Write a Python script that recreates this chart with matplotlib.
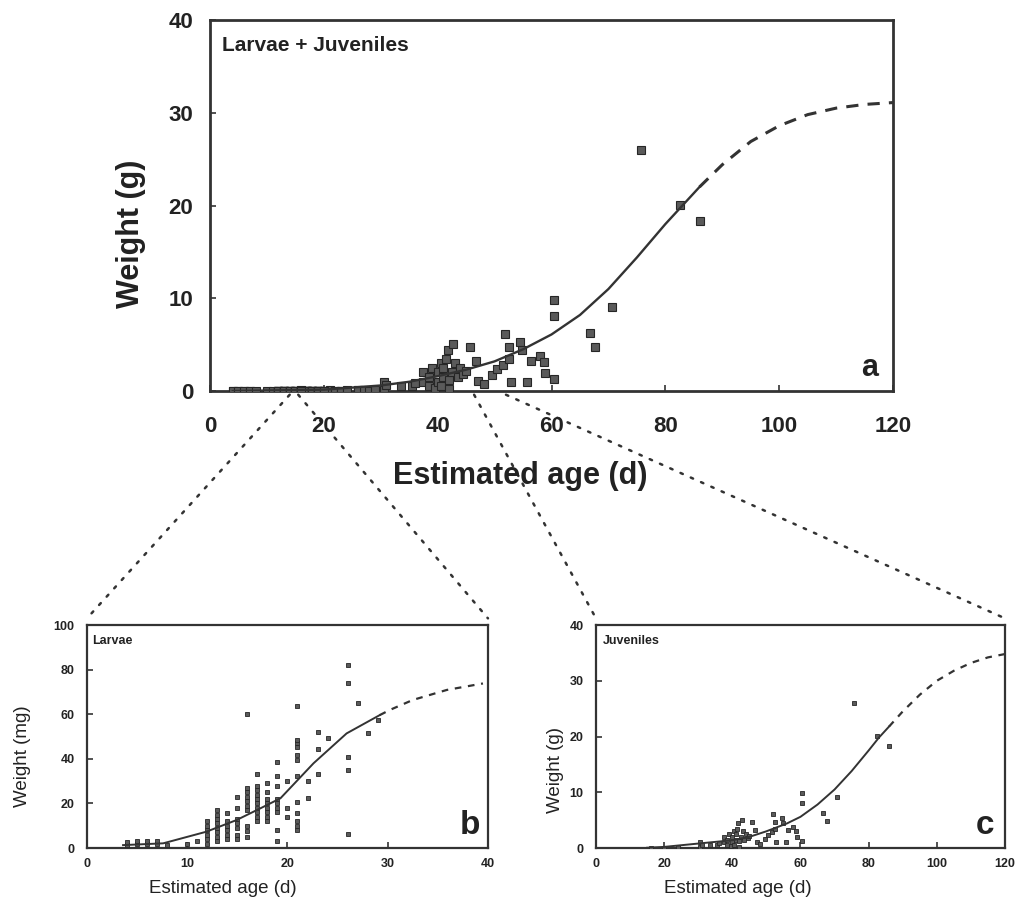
import matplotlib
matplotlib.use("Agg")
import matplotlib.pyplot as plt
from matplotlib.patches import ConnectionPatch

plt.rcParams['font.family'] = ['Liberation Sans', 'DejaVu Sans']

# ------------------------------------------------------------------
# Data
# ------------------------------------------------------------------
# larvae: estimated age (d) and weight (mg)
larvae_age = [4, 4, 5, 5, 6, 6, 7, 7, 8, 10, 11,
              12, 12, 12, 12, 12, 12,
              13, 13, 13, 13, 13, 13, 13, 13,
              14, 14, 14, 14, 14, 14,
              15, 15, 15, 15, 15, 15, 15,
              16, 16, 16, 16, 16, 16, 16, 16, 16, 16,
              17, 17, 17, 17, 17, 17, 17, 17, 17, 17,
              18, 18, 18, 18, 18, 18, 18, 18,
              19, 19, 19, 19, 19, 19, 19, 19, 19,
              20, 20, 20,
              21, 21, 21, 21, 21, 21, 21, 21, 21, 21, 21, 21,
              22, 22, 23, 23, 23, 24,
              26, 26, 26, 26, 26, 27, 28, 29]
larvae_mg = [1.5, 2.5, 2, 3, 2, 3, 2, 3, 1.5, 2, 3,
             2, 4, 6, 8, 10, 12,
             3, 5, 7, 9, 11, 13, 15, 17,
             4, 6, 8, 10, 12, 15.5,
             4, 6, 9, 11, 13, 18, 23,
             5, 7.5, 10, 17, 19, 21, 23, 25, 27, 60,
             12, 14, 16, 18, 20, 22, 24, 26, 28, 33,
             12, 14, 16, 18, 20, 22, 25, 29,
             3, 8, 16, 18, 20, 22, 28, 32.5, 38.5,
             14, 18, 30,
             8, 10, 12, 15.5, 20.5, 32.5, 39.5, 41.5, 45.5, 47, 48.5, 63.5,
             22.5, 30, 33, 44.5, 52, 49.5,
             6.5, 35, 41, 74, 82, 65, 51.5, 57.5]

# juveniles: estimated age (d) and weight (g)
juv_age = [16, 20, 24, 30.5, 30.5, 31, 33.5, 35.5, 36,
           37.5, 37.5, 38.5, 38.5, 39, 39.5, 40, 40, 40.5, 40.5, 41, 41,
           41.5, 41.8, 42, 42, 42.5, 42.7, 43, 43.5, 44, 44.5, 45,
           45.7, 46.7, 47.1, 48.1, 49.6, 50.5, 51.5, 51.8, 52.5, 52.5, 52.8,
           54.5, 54.8, 55.7, 56.4, 57.9, 58.7, 58.9, 60.5, 60.5, 60.5,
           66.7, 67.7, 70.6, 75.7, 82.5, 86.0]
juv_g = [0.05, 0.05, 0.1, 0.2, 1.0, 0.6, 0.5, 0.5, 0.9,
         1.0, 2.0, 0.5, 1.5, 2.5, 0.3, 1.0, 2.0, 3.0, 0.5, 1.5, 2.5,
         3.5, 4.4, 0.2, 1.2, 2.0, 5.1, 3.0, 1.5, 2.5, 1.8, 2.2,
         4.7, 3.2, 1.1, 0.8, 1.7, 2.4, 2.8, 6.1, 4.7, 3.5, 1.0,
         5.3, 4.4, 1.0, 3.2, 3.8, 3.1, 1.9, 1.3, 9.8, 8.1,
         6.3, 4.8, 9.1, 26.0, 20.1, 18.3]

# growth curves (solid = within data, dashed = extrapolated)
curve_a_x = [4, 20, 30, 35, 40, 45, 50, 55, 60, 65, 70, 75, 80, 83, 86]
curve_a_y = [0.0, 0.15, 0.6, 1.0, 1.6, 2.3, 3.2, 4.5, 6.1, 8.2, 11.0, 14.4, 18.0, 20.0, 22.0]
curve_a_ext_x = [86, 90, 95, 100, 105, 110, 115, 120]
curve_a_ext_y = [22.0, 24.4, 26.9, 28.6, 29.8, 30.5, 30.9, 31.1]

curve_b_x = [3.6, 7.6, 11.9, 14.9, 17.3, 19.3, 22.6, 25.9, 29.2]
curve_b_y = [1.3, 2.1, 7.3, 12.5, 17.8, 22.3, 38.0, 51.4, 59.6]
curve_b_ext_x = [29.2, 30.2, 32.5, 35.9, 39.5]
curve_b_ext_y = [59.6, 61.9, 66.4, 70.9, 73.8]

curve_c_x = [15, 20, 30, 40, 45, 50, 56, 60, 65, 70, 75, 80, 83, 86]
curve_c_y = [0.05, 0.2, 0.8, 1.4, 2.0, 3.0, 4.4, 5.6, 7.8, 10.5, 13.8, 17.5, 19.8, 21.8]
curve_c_ext_x = [86, 90, 95, 100, 105, 110, 115, 120]
curve_c_ext_y = [21.8, 24.5, 27.5, 30.0, 31.8, 33.2, 34.2, 34.8]

# ------------------------------------------------------------------
INK = '#333333'
MFC = '#5a5a5a'
MEC = '#262626'

fig = plt.figure(figsize=(10.17, 9.06), dpi=100)

axa = fig.add_axes([0.2065, 0.5684, 0.6716, 0.4095])
axb = fig.add_axes([0.0855, 0.064, 0.3943, 0.2461])
axc = fig.add_axes([0.586, 0.064, 0.4022, 0.2461])


def style_axes(ax, lw, tick_size, xpad, ypad):
    for sp in ax.spines.values():
        sp.set_linewidth(lw)
        sp.set_color(INK)
    ax.tick_params(direction='in', length=4, width=1.2, colors=INK,
                   labelsize=tick_size, labelcolor='#222222')
    ax.tick_params(axis='x', pad=xpad)
    ax.tick_params(axis='y', pad=ypad)
    for lab in ax.get_xticklabels() + ax.get_yticklabels():
        lab.set_fontweight('bold')


# ---- panel a: larvae + juveniles (g) ----
larvae_g = [v / 1000.0 for v in larvae_mg]
axa.plot(larvae_age, larvae_g, 's', ms=5.6, mfc=MFC, mec=MEC, mew=0.8, zorder=3)
axa.plot(juv_age, juv_g, 's', ms=5.6, mfc=MFC, mec=MEC, mew=0.8, zorder=3)
axa.plot(curve_a_x, curve_a_y, '-', color=INK, lw=1.7, zorder=4)
axa.plot(curve_a_ext_x, curve_a_ext_y, color=INK, lw=2.2, ls=(0, (4, 3)), zorder=4)
axa.set_xlim(0, 120)
axa.set_ylim(0, 40)
axa.set_xticks([0, 20, 40, 60, 80, 100, 120])
axa.set_yticks([0, 10, 20, 30, 40])
style_axes(axa, 2.0, 16, 18, 12)
axa.set_xlabel('Estimated age (d)', fontsize=22, fontweight='bold', color='#222222')
axa.xaxis.set_label_coords(0.454, -0.228)
axa.xaxis.label.set_va('center')
axa.set_ylabel('Weight (g)', fontsize=22, fontweight='bold', color='#222222')
axa.yaxis.set_label_coords(-0.116, 0.423)
axa.yaxis.label.set_va('center')
axa.text(0.018, 0.93, 'Larvae + Juveniles', transform=axa.transAxes,
         fontsize=15, fontweight='bold', color='#222222', va='center', ha='left')
axa.text(0.966, 0.062, 'a', transform=axa.transAxes, fontsize=22,
         fontweight='bold', color='#222222', va='center', ha='center')

# ---- panel b: larvae (mg) ----
axb.plot(larvae_age, larvae_mg, 's', ms=3.2, mfc=MFC, mec=MEC, mew=0.6, zorder=3)
axb.plot(curve_b_x, curve_b_y, '-', color=INK, lw=1.4, zorder=4)
axb.plot(curve_b_ext_x, curve_b_ext_y, color=INK, lw=1.6, ls=(0, (3, 3)), zorder=4)
axb.set_xlim(0, 40)
axb.set_ylim(0, 100)
axb.set_xticks([0, 10, 20, 30, 40])
axb.set_yticks([0, 20, 40, 60, 80, 100])
style_axes(axb, 1.6, 9, 7, 9)
axb.set_xlabel('Estimated age (d)', fontsize=13.5, color='#222222')
axb.xaxis.set_label_coords(0.34, -0.18)
axb.xaxis.label.set_va('center')
axb.set_ylabel('Weight (mg)', fontsize=13.5, color='#222222')
axb.yaxis.set_label_coords(-0.16, 0.41)
axb.yaxis.label.set_va('center')
axb.text(0.012, 0.93, 'Larvae', transform=axb.transAxes, fontsize=9,
         fontweight='bold', color='#222222', va='center', ha='left')
axb.text(0.955, 0.1, 'b', transform=axb.transAxes, fontsize=24,
         fontweight='bold', color='#222222', va='center', ha='center')

# ---- panel c: juveniles (g) ----
axc.plot(juv_age, juv_g, 's', ms=3.2, mfc=MFC, mec=MEC, mew=0.6, zorder=3)
axc.plot(curve_c_x, curve_c_y, '-', color=INK, lw=1.4, zorder=4)
axc.plot(curve_c_ext_x, curve_c_ext_y, color=INK, lw=1.6, ls=(0, (3, 3)), zorder=4)
axc.set_xlim(0, 120)
axc.set_ylim(0, 40)
axc.set_xticks([0, 20, 40, 60, 80, 100, 120])
axc.set_yticks([0, 10, 20, 30, 40])
style_axes(axc, 1.6, 9, 7, 9)
axc.set_xlabel('Estimated age (d)', fontsize=13.5, color='#222222')
axc.xaxis.set_label_coords(0.347, -0.18)
axc.xaxis.label.set_va('center')
axc.set_ylabel('Weight (g)', fontsize=13.5, color='#222222')
axc.yaxis.set_label_coords(-0.10, 0.35)
axc.yaxis.label.set_va('center')
axc.text(0.018, 0.93, 'Juveniles', transform=axc.transAxes, fontsize=9,
         fontweight='bold', color='#222222', va='center', ha='left')
axc.text(0.951, 0.1, 'c', transform=axc.transAxes, fontsize=24,
         fontweight='bold', color='#222222', va='center', ha='center')

# ---- dotted "zoom" lines from panel a to the lower panels ----
links = [((14.0, -0.4), axb, (0.0, 1.03)),
         ((15.5, -0.4), axb, (1.0, 1.03)),
         ((46.4, -0.4), axc, (0.0, 1.03)),
         ((52.0, -0.4), axc, (1.0, 1.03))]
for xy_a, ax_to, xy_to in links:
    con = ConnectionPatch(xyA=xy_a, coordsA=axa.transData,
                          xyB=xy_to, coordsB=ax_to.transAxes,
                          color=INK, lw=1.8, ls=(0, (1, 3.5)), zorder=0)
    fig.add_artist(con)

fig.savefig('out.png', dpi=100)
